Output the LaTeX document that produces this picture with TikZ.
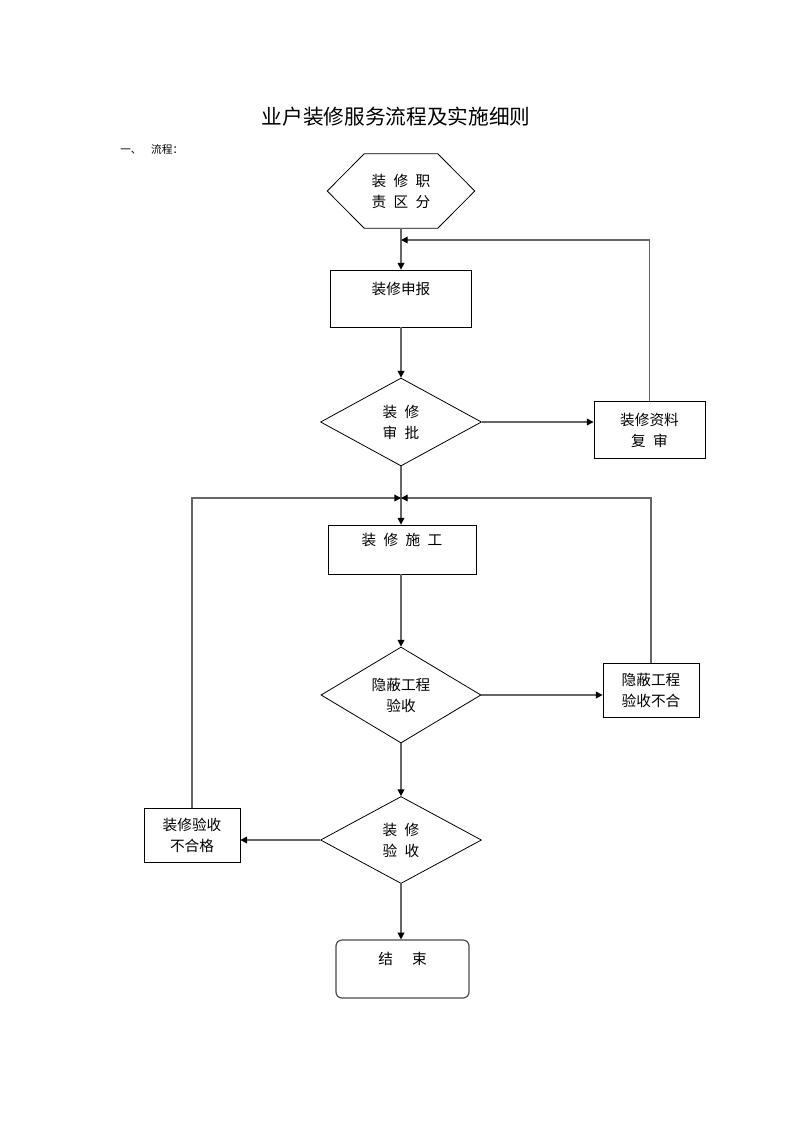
\documentclass[tikz,border=0pt]{standalone}
\usepackage{fontspec}
\newfontfamily\cjk{Noto Sans CJK SC}
\usetikzlibrary{shapes.geometric,arrows.meta,calc}
\newcommand{\kg}{\hspace{0.5em}}
\tikzset{
  every node/.style={font=\cjk\fontsize{11pt}{15.75pt}\selectfont, align=center, inner sep=0pt},
  box/.style={draw, line width=0.6pt, rectangle},
  decide/.style={draw, line width=0.6pt, diamond},
  flow/.style={draw=black!60, line width=1pt, -{Triangle[length=5pt,width=5pt,color=black]}},
}

\begin{document}
\begin{tikzpicture}[x=0.75pt,y=-0.75pt]
  \path[fill=white, use as bounding box] (0,0) rectangle (793,1122);

  \node (title) [font=\cjk\fontsize{15.5pt}{18pt}\selectfont] at (396,117) {业户装修服务流程及实施细则};
  \node (section) [anchor=west, font=\cjk\fontsize{8pt}{9.5pt}\selectfont] at (120,149) {一、\hspace{0.9em}流程：};

  \node (duty) [minimum width=54.75pt, minimum height=55.5pt] at (401,191) {装\kg 修\kg 职\\责\kg 区\kg 分};
  \draw[line width=0.6pt] (duty.north west) -- (duty.north east) -- ($(duty.east)+(37,0)$)
    -- (duty.south east) -- (duty.south west) -- ($(duty.west)+(-37,0)$) -- cycle;

  \node (apply) [box, minimum width=105.75pt, minimum height=42.75pt] at (401,298.5) {装修申报\\ \mbox{}};
  \node (approve) [decide, minimum width=120.75pt, minimum height=66pt] at (401,422) {装\kg 修\\审\kg 批};
  \node (recheck) [box, minimum width=83.25pt, minimum height=42.75pt] at (649.5,430) {装修资料\\复\kg 审};
  \node (build) [box, minimum width=111pt, minimum height=36.75pt] at (402,549.5) {装\kg 修\kg 施\kg 工\\ \mbox{}};
  \node (hidden) [decide, minimum width=120pt, minimum height=72pt] at (401,695) {隐蔽工程\\验收};
  \node (hiddenfail) [box, minimum width=72pt, minimum height=40.5pt] at (651,690) {隐蔽工程\\验收不合};
  \node (check) [decide, minimum width=120.75pt, minimum height=65.25pt] at (401,840) {装\kg 修\\验\kg 收};
  \node (checkfail) [box, minimum width=72pt, minimum height=40.5pt] at (192,835) {装修验收\\不合格};
  \node (finish) [box, rounded corners=4.5pt, draw=black!70, line width=0.9pt,
    minimum width=99.75pt, minimum height=43.5pt] at (402.5,969) {结\hspace{1.3em}束\\ \mbox{}};

  \coordinate (backA) at (401,240);
  \coordinate (backB) at (401,498);

  \draw[flow] (duty.south) -- (apply.north);
  \draw[flow] (apply.south) -- (approve.north);
  \draw[flow] (approve.east) -- (approve.east -| recheck.west);
  \draw[flow] (recheck.north) |- (backA);
  \draw[flow] (approve.south) -- (approve.south |- build.north);
  \draw[flow] (checkfail.north) |- (backB);
  \draw[flow] (hiddenfail.north) |- (backB);
  \draw[flow] (hidden.north |- build.south) -- (hidden.north);
  \draw[flow] (hidden.east) -- (hidden.east -| hiddenfail.west);
  \draw[flow] (hidden.south) -- (check.north);
  \draw[flow] (check.west) -- (check.west -| checkfail.east);
  \draw[flow] (check.south) -- (check.south |- finish.north);
\end{tikzpicture}
\end{document}
